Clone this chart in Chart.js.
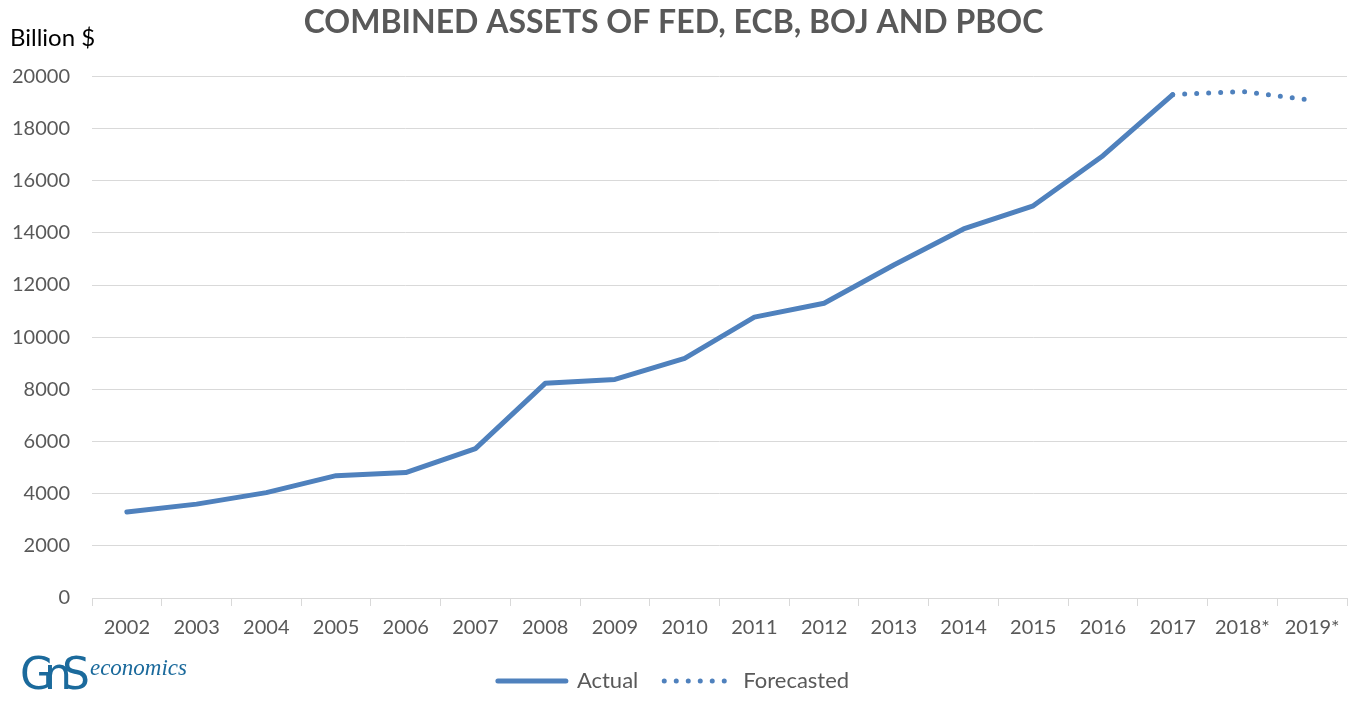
<!DOCTYPE html>
<html lang="en">
<head>
    <meta charset="UTF-8">
    <title>Combined Assets of FED, ECB, BOJ and PBOC</title>
    <script src="https://cdn.jsdelivr.net/npm/chart.js"></script>
    <style>
        body {
            margin: 0;
            background: #ffffff;
            font-family: Lato, sans-serif;
        }
        #wrap {
            position: relative;
            width: 1357px;
            height: 702px;
        }
        #unit {
            position: absolute;
            left: 10px;
            top: 22px;
            font-size: 24px;
            color: #000;
        }
        #logo {
            position: absolute;
            left: 20px;
            top: 648px;
            color: #1b6a9c;
            white-space: nowrap;
        }
        #logo .gns {
            font-family: "DejaVu Sans", sans-serif;
            font-size: 44px;
            letter-spacing: -10px;
        }
        #logo .eco {
            font-family: "Liberation Serif", serif;
            font-style: italic;
            font-size: 23px;
            vertical-align: 14px;
            margin-left: 10px;
        }
    </style>
</head>
<body>
<div id="wrap">
    <canvas id="assetsChart" width="1357" height="702"></canvas>
    <div id="unit">Billion $</div>
    <div id="logo"><span class="gns">GnS</span><span class="eco">economics</span></div>
</div>
<script>
    // Combined central bank assets, billion $
    const years = ['2002', '2003', '2004', '2005', '2006', '2007', '2008', '2009', '2010',
                   '2011', '2012', '2013', '2014', '2015', '2016', '2017', '2018*', '2019*'];
    const actual = [3300, 3600, 4040, 4690, 4810, 5730, 8230, 8380, 9190,
                    10770, 11300, 12770, 14150, 15040, 16960, 19300, null, null];
    const forecast = [null, null, null, null, null, null, null, null, null,
                      null, null, null, null, null, null, 19300, 19420, 19080];

    const blue = '#4F81BD';
    const grey = '#595959';
    const gridCol = '#D9D9D9';

    const chart = new Chart(document.getElementById('assetsChart'), {
        type: 'line',
        data: {
            labels: years,
            datasets: [
                {
                    label: 'Actual',
                    data: actual,
                    borderColor: blue,
                    backgroundColor: blue,
                    borderWidth: 5,
                    borderCapStyle: 'round',
                    borderJoinStyle: 'round',
                    pointRadius: 0,
                    tension: 0
                },
                {
                    label: 'Forecasted',
                    data: forecast,
                    borderColor: blue,
                    backgroundColor: blue,
                    borderWidth: 5,
                    borderDash: [0, 12],
                    borderCapStyle: 'round',
                    pointRadius: 0,
                    tension: 0
                }
            ]
        },
        options: {
            responsive: false,
            animation: false,
            layout: {
                padding: { left: 0, right: 10, top: 0, bottom: 0 }
            },
            scales: {
                x: {
                    offset: true,
                    // let the plot reach down a little further, labels follow the axis
                    afterFit: function(scale) { scale.height -= 6; },
                    grid: {
                        offset: true,
                        drawOnChartArea: false,
                        color: gridCol,
                        tickLength: 8
                    },
                    border: { display: true, color: gridCol },
                    ticks: {
                        color: grey,
                        font: { family: 'Lato', size: 20 },
                        padding: 10,
                        maxRotation: 0,
                        autoSkip: false
                    }
                },
                y: {
                    min: 0,
                    max: 20000,
                    afterFit: function(scale) { scale.width = 92; },
                    grid: {
                        color: gridCol,
                        drawTicks: false
                    },
                    border: { display: false },
                    ticks: {
                        stepSize: 2000,
                        color: grey,
                        font: { family: 'Lato', size: 20 },
                        padding: 22,
                        callback: v => v
                    }
                }
            },
            plugins: {
                title: {
                    display: true,
                    text: 'COMBINED ASSETS OF FED, ECB, BOJ AND PBOC',
                    color: grey,
                    font: { family: 'Lato', size: 32, weight: 'bold' },
                    padding: { top: 3, bottom: 35 }
                },
                legend: {
                    position: 'bottom',
                    labels: {
                        usePointStyle: true,
                        pointStyle: 'line',
                        pointStyleWidth: 68,
                        color: grey,
                        font: { family: 'Lato', size: 22 },
                        padding: 26,
                        generateLabels: function(c) {
                            const items = Chart.defaults.plugins.legend.labels.generateLabels(c);
                            items.forEach(function(item) {
                                const ds = c.data.datasets[item.datasetIndex];
                                item.lineDash = ds.borderDash || [];
                                item.lineWidth = 5;
                                item.lineCap = 'round';
                                item.strokeStyle = blue;
                            });
                            return items;
                        }
                    }
                },
                tooltip: { enabled: false }
            }
        }
    });
</script>
</body>
</html>
